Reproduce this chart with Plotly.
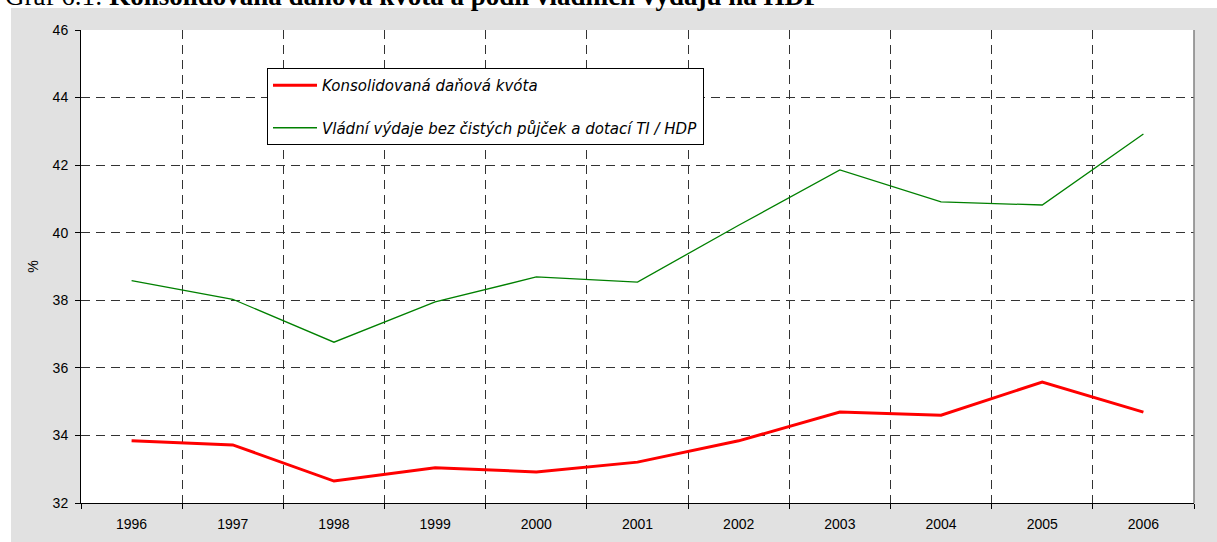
import plotly.graph_objects as go

years = ["1996", "1997", "1998", "1999", "2000", "2001", "2002", "2003", "2004", "2005", "2006"]
dan_kvota = [33.84, 33.72, 32.65, 33.04, 32.92, 33.21, 33.84, 34.69, 34.60, 35.58, 34.69]
vydaje = [38.58, 38.03, 36.76, 37.95, 38.69, 38.54, 40.22, 41.86, 40.91, 40.82, 42.92]
y_ticks = [32, 34, 36, 38, 40, 42, 44, 46]

name_red = "Konsolidovaná daňová kvóta"
name_green = "Vládní výdaje bez čistých půjček a dotací TI / HDP"
title_text = "Graf 6.1: <b>Konsolidovaná daňová kvóta a podíl vládních výdajů na HDP</b>"

W, H = 1217, 542
L, R, T, B = 81, 23, 30, 39
pw = W - L - R
ph = H - T - B

fig = go.Figure()
fig.add_trace(go.Scatter(x=years, y=dan_kvota, mode="lines", name=name_red,
                         line=dict(color="#ff0000", width=3), legendgroup="a"))
fig.add_trace(go.Scatter(x=years, y=vydaje, mode="lines", name=name_green,
                         line=dict(color="#008000", width=1.3), legendgroup="b"))

font = dict(family="Liberation Sans, Arial, sans-serif", size=14, color="black")

fig.update_layout(
    width=W, height=H,
    margin=dict(l=L, r=R, t=T, b=B, autoexpand=False),
    paper_bgcolor="#e1e1e1",
    plot_bgcolor="white",
    font=font,
    showlegend=True,
    legend=dict(
        x=(267 - L) / pw, y=(H - B - 68) / ph, xanchor="left", yanchor="top",
        bgcolor="white", bordercolor="black", borderwidth=1,
        font=dict(family="DejaVu Sans, Verdana, sans-serif", size=15, color="black", style="italic"),
        tracegroupgap=20, traceorder="grouped", itemwidth=44,
    ),
    xaxis=dict(
        type="category", tickson="boundaries", showgrid=True,
        gridcolor="#333333", griddash="9px,6px", gridwidth=1,
        showline=True, linecolor="black", linewidth=1,
        ticks="outside", ticklen=5, tickcolor="black",
        range=[-0.5, 10.5], fixedrange=True, ticklabelstandoff=8,
    ),
    yaxis=dict(
        range=[32, 46], tickvals=y_ticks, showgrid=True,
        gridcolor="#333333", griddash="9px,6px", gridwidth=1,
        showline=True, linecolor="black", linewidth=1,
        ticks="outside", ticklen=5, tickcolor="black",
        title=dict(text="%", standoff=10, font=font),
        zeroline=False, ticklabelstandoff=4,
    ),
    shapes=[
        dict(type="rect", xref="paper", yref="paper",
             x0=-L / pw, x1=(W - L) / pw,
             y0=(H - B - 8) / ph, y1=(H - B) / ph,
             fillcolor="white", line=dict(width=0), layer="below"),
        dict(type="rect", xref="paper", yref="paper",
             x0=-L / pw, x1=-(L - 11) / pw,
             y0=-B / ph, y1=(H - B) / ph,
             fillcolor="white", line=dict(width=0), layer="below"),
        dict(type="line", xref="paper", yref="paper", x0=1, x1=1, y0=0, y1=1,
             line=dict(color="#808080", width=1.5), layer="above"),
    ],
    annotations=[
        dict(text=title_text, xref="paper", yref="paper",
             x=(4 - L) / pw, y=(H - B - 12) / ph,
             xanchor="left", yanchor="bottom", showarrow=False, borderpad=0,
             font=dict(family="Liberation Serif, Times New Roman, serif", size=27, color="black")),
    ],
)

fig.write_html("out.html", config={"displayModeBar": False},
               post_script="document.body.style.margin='0px';")
